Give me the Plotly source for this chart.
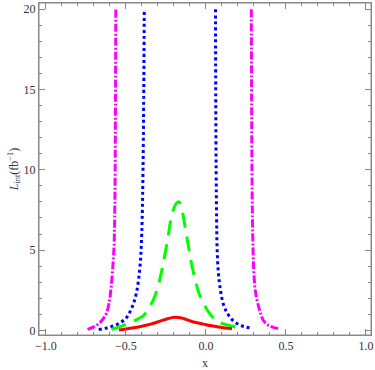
import plotly.graph_objects as go

# magenta dot-dashed, two branches
mag_left_x = [-0.74, -0.70, -0.665, -0.64, -0.62, -0.605, -0.594, -0.585, -0.578, -0.574, -0.570, -0.567, -0.565, -0.563]
mag_left_y = [0.06, 0.22, 0.45, 0.75, 1.1, 1.7, 2.5, 3.5, 4.5, 5.2, 7.0, 10.0, 14.0, 20.0]
mag_right_x = [0.284, 0.286, 0.288, 0.291, 0.295, 0.300, 0.310, 0.329, 0.345, 0.360, 0.390, 0.425, 0.460]
mag_right_y = [20.0, 14.0, 10.0, 7.0, 5.0, 3.6, 2.4, 1.5, 0.95, 0.6, 0.32, 0.17, 0.1]

# blue dotted, two branches
blue_left_x = [-0.67, -0.62, -0.58, -0.54, -0.50, -0.477, -0.455, -0.435, -0.42, -0.41, -0.404, -0.398, -0.393, -0.389, -0.385]
blue_left_y = [0.05, 0.15, 0.27, 0.45, 0.75, 1.1, 1.6, 2.3, 3.2, 4.2, 5.2, 7.0, 10.0, 14.0, 20.0]
blue_right_x = [0.060, 0.062, 0.064, 0.067, 0.070, 0.078, 0.091, 0.110, 0.132, 0.165, 0.204, 0.245, 0.290]
blue_right_y = [20.0, 14.0, 10.0, 7.0, 5.2, 3.6, 2.5, 1.6, 1.1, 0.65, 0.37, 0.22, 0.12]

# green dashed
green_x = [-0.59, -0.53, -0.477, -0.43, -0.394, -0.355, -0.32, -0.29, -0.27, -0.24, -0.21, -0.185, -0.167,
           -0.145, -0.126, -0.11, -0.095, -0.07, -0.043, -0.01, 0.019, 0.045, 0.07, 0.11, 0.163, 0.2, 0.235]
green_y = [0.06, 0.25, 0.47, 0.68, 0.88, 1.4, 2.1, 3.1, 4.0, 5.6, 7.3, 7.9, 8.0,
           7.3, 6.2, 5.3, 4.4, 3.3, 2.3, 1.6, 1.1, 0.8, 0.57, 0.4, 0.27, 0.17, 0.1]

# red solid
red_x = [-0.543, -0.5, -0.45, -0.394, -0.34, -0.29, -0.24, -0.198, -0.16, -0.136, -0.1, -0.07, -0.033,
         0.0, 0.035, 0.07, 0.12, 0.163]
red_y = [0.02, 0.08, 0.16, 0.27, 0.4, 0.56, 0.72, 0.82, 0.79, 0.72, 0.6, 0.5, 0.43,
         0.35, 0.28, 0.23, 0.15, 0.1]

fig = go.Figure()

mag_line = dict(color='#ff00ff', width=3, dash='8px,2px,2px,2px')
blue_line = dict(color='#0000ff', width=3, dash='3px,3px')

fig.add_trace(go.Scatter(x=mag_left_x, y=mag_left_y, mode='lines', line=mag_line, line_shape='spline'))
fig.add_trace(go.Scatter(x=mag_right_x, y=mag_right_y, mode='lines', line=mag_line, line_shape='spline'))
fig.add_trace(go.Scatter(x=blue_left_x, y=blue_left_y, mode='lines', line=blue_line, line_shape='spline'))
fig.add_trace(go.Scatter(x=blue_right_x, y=blue_right_y, mode='lines', line=blue_line, line_shape='spline'))
fig.add_trace(go.Scatter(x=green_x, y=green_y, mode='lines', line_shape='spline',
                         line=dict(color='#00ff00', width=3, dash='15px,9px')))
fig.add_trace(go.Scatter(x=red_x, y=red_y, mode='lines', line_shape='spline',
                         line=dict(color='#ff0000', width=3)))

axis_common = dict(showgrid=False, zeroline=False, showline=True, linecolor='#888888', linewidth=1,
                   mirror='allticks', ticks='inside', ticklen=6, tickcolor='#888888', tickwidth=1,
                   ticklabeloverflow='allow',
                   tickfont=dict(family='Liberation Serif', size=12, color='#333333'))

fig.update_layout(
    width=375, height=370,
    margin=dict(l=39, r=2, t=2, b=34),
    paper_bgcolor='white', plot_bgcolor='white',
    showlegend=False,
    font=dict(family='Liberation Serif', size=12, color='#333333'),
    xaxis=dict(range=[-1.043, 1.032], tickvals=[-1.0, -0.5, 0.0, 0.5, 1.0],
               ticktext=['\u22121.0', '\u22120.5', '0.0', '0.5', '1.0'],
               minor=dict(dtick=0.1, tick0=0, ticks='inside', ticklen=3, tickcolor='#888888'),
               title=dict(text='x', standoff=6, font=dict(size=12)), **axis_common),
    yaxis=dict(range=[-0.29, 20.39], tickvals=[0, 5, 10, 15, 20],
               minor=dict(dtick=1, tick0=0, ticks='inside', ticklen=3, tickcolor='#888888'),
               title=dict(text='<i>L</i><sub>int</sub>(fb<sup>\u22121</sup>)', standoff=2, font=dict(size=12)),
               **axis_common),
)

# frame box around the plot area
fig.add_shape(type='rect', xref='paper', yref='paper', x0=0, x1=1, y0=0, y1=1,
              line=dict(color='#888888', width=1), layer='above')

# page body has a default margin that would push the figure off the window
fig.write_html("out.html", config={'displayModeBar': False},
               post_script="document.body.style.margin='0';")
